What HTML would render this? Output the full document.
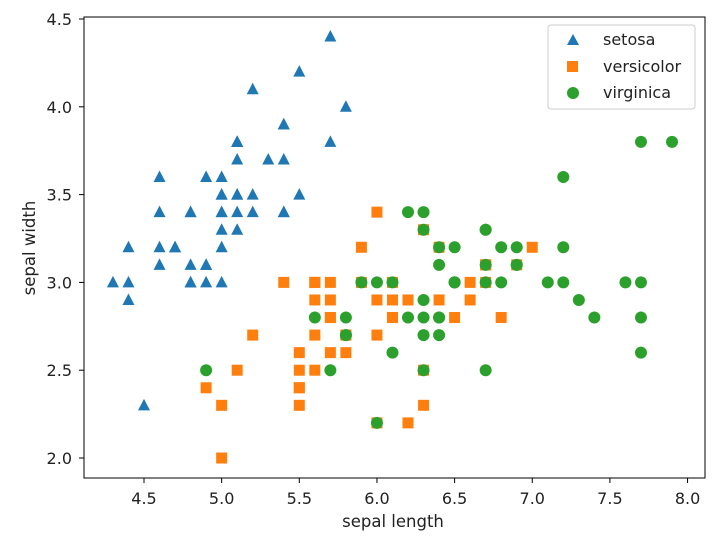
<!DOCTYPE html>
<html><head><meta charset="utf-8"><style>
body{margin:0;background:#fff;}
svg{display:block;font-family:"DejaVu Sans","Liberation Sans",sans-serif;}
</style></head><body>
<svg id="chart" width="725" height="538" viewBox="0 0 725 538">
<rect x="0" y="0" width="725" height="538" fill="#fff"/>
<g id="marks"></g>
<g id="axes"></g>
<rect x="84" y="17" width="621" height="461" fill="none" stroke="#000" stroke-width="1"/>
<text x="393" y="527" font-size="16.5" fill="#222" text-anchor="middle">sepal length</text>
<text x="0" y="0" font-size="16.5" fill="#222" text-anchor="middle" transform="translate(35,248) rotate(-90)">sepal width</text>
<g>
<rect x="548" y="25" width="147" height="84" rx="3" fill="#fff" stroke="#ccc"/>
<g><polygon points="573,34 579,45 567,45" fill="#1f77b4"/><text x="603" y="45" font-size="16" fill="#222">setosa</text></g>
<g><rect x="567" y="61" width="11" height="11" fill="#ff7f0e"/><text x="603" y="72" font-size="16" fill="#222">versicolor</text></g>
<g><circle cx="573" cy="93" r="6" fill="#2ca02c"/><text x="603" y="98" font-size="16" fill="#222">virginica</text></g>
</g>
</svg>
<script>
const setosaX=[5.1,4.9,4.7,4.6,5.0,5.4,4.6,5.0,4.4,4.9,5.4,4.8,4.8,4.3,5.8,5.7,5.4,5.1,5.7,5.1,5.4,5.1,4.6,5.1,4.8,5.0,5.0,5.2,5.2,4.7,4.8,5.4,5.2,5.5,4.9,5.0,5.5,4.9,4.4,5.1,5.0,4.5,4.4,5.0,5.1,4.8,5.1,4.6,5.3,5.0];
const setosaY=[3.5,3.0,3.2,3.1,3.6,3.9,3.4,3.4,2.9,3.1,3.7,3.4,3.0,3.0,4.0,4.4,3.9,3.5,3.8,3.8,3.4,3.7,3.6,3.3,3.4,3.0,3.4,3.5,3.4,3.2,3.1,3.4,4.1,4.2,3.1,3.2,3.5,3.6,3.0,3.4,3.5,2.3,3.2,3.5,3.8,3.0,3.8,3.2,3.7,3.3];
const versicolorX=[7.0,6.4,6.9,5.5,6.5,5.7,6.3,4.9,6.6,5.2,5.0,5.9,6.0,6.1,5.6,6.7,5.6,5.8,6.2,5.6,5.9,6.1,6.3,6.1,6.4,6.6,6.8,6.7,6.0,5.7,5.5,5.5,5.8,6.0,5.4,6.0,6.7,6.3,5.6,5.5,5.5,6.1,5.8,5.0,5.6,5.7,5.7,6.2,5.1,5.7];
const versicolorY=[3.2,3.2,3.1,2.3,2.8,2.8,3.3,2.4,2.9,2.7,2.0,3.0,2.2,2.9,2.9,3.1,3.0,2.7,2.2,2.5,3.2,2.8,2.5,2.8,2.9,3.0,2.8,3.0,2.9,2.6,2.4,2.4,2.7,2.7,3.0,3.4,3.1,2.3,3.0,2.5,2.6,3.0,2.6,2.3,2.7,3.0,2.9,2.9,2.5,2.8];
const virginicaX=[6.3,5.8,7.1,6.3,6.5,7.6,4.9,7.3,6.7,7.2,6.5,6.4,6.8,5.7,5.8,6.4,6.5,7.7,7.7,6.0,6.9,5.6,7.7,6.3,6.7,7.2,6.2,6.1,6.4,7.2,7.4,7.9,6.4,6.3,6.1,7.7,6.3,6.4,6.0,6.9,6.7,6.9,5.8,6.8,6.7,6.7,6.3,6.5,6.2,5.9];
const virginicaY=[3.3,2.7,3.0,2.9,3.0,3.0,2.5,2.9,2.5,3.6,3.2,2.7,3.0,2.5,2.8,3.2,3.0,3.8,2.6,2.2,3.2,2.8,2.8,2.7,3.3,3.2,2.8,3.0,2.8,3.0,2.8,3.8,2.8,2.8,2.6,3.0,3.4,3.1,3.0,3.1,3.1,3.1,2.7,3.2,3.3,3.0,2.5,3.0,3.4,3.0];
const xTicks=[4.5,5.0,5.5,6.0,6.5,7.0,7.5,8.0];
const yTicks=[2.0,2.5,3.0,3.5,4.0,4.5];
const NS="http://www.w3.org/2000/svg";
function sx(v){return 144+(v-4.5)*155.3;}
function sy(v){return 458-(v-2)*175.6;}
const marks=document.getElementById('marks');
const axes=document.getElementById('axes');
function mk(tag,attrs,parent){const e=document.createElementNS(NS,tag);for(const k in attrs)e.setAttribute(k,attrs[k]);parent.appendChild(e);return e;}
setosaX.forEach((x,i)=>{const cx=sx(x),cy=sy(setosaY[i]);
const p=mk('polygon',{points:`${cx},${cy-6.5} ${cx+6},${cy+5} ${cx-6},${cy+5}`,fill:'#1f77b4'},marks);

});
versicolorX.forEach((x,i)=>{const cx=sx(x),cy=sy(versicolorY[i]);
const r=mk('rect',{x:cx-5.5,y:cy-5.5,width:11,height:11,fill:'#ff7f0e'},marks);

});
virginicaX.forEach((x,i)=>{
const c=mk('circle',{cx:sx(x),cy:sy(virginicaY[i]),r:6,fill:'#2ca02c'},marks);

});
xTicks.forEach(t=>{const x=sx(t);
const l=mk('line',{x1:x,x2:x,y1:478,y2:483,stroke:'#000'},axes);


const tx=mk('text',{x:x,y:504,'font-size':16,fill:'#222','text-anchor':'middle'},axes);tx.textContent=t.toFixed(1);

});
yTicks.forEach(t=>{const y=sy(t);
const l=mk('line',{x1:79,x2:84,y1:y,y2:y,stroke:'#000'},axes);


const tx=mk('text',{x:72,y:y+6,'font-size':16,fill:'#222','text-anchor':'end'},axes);tx.textContent=t.toFixed(1);

});
</script>
</body></html>
